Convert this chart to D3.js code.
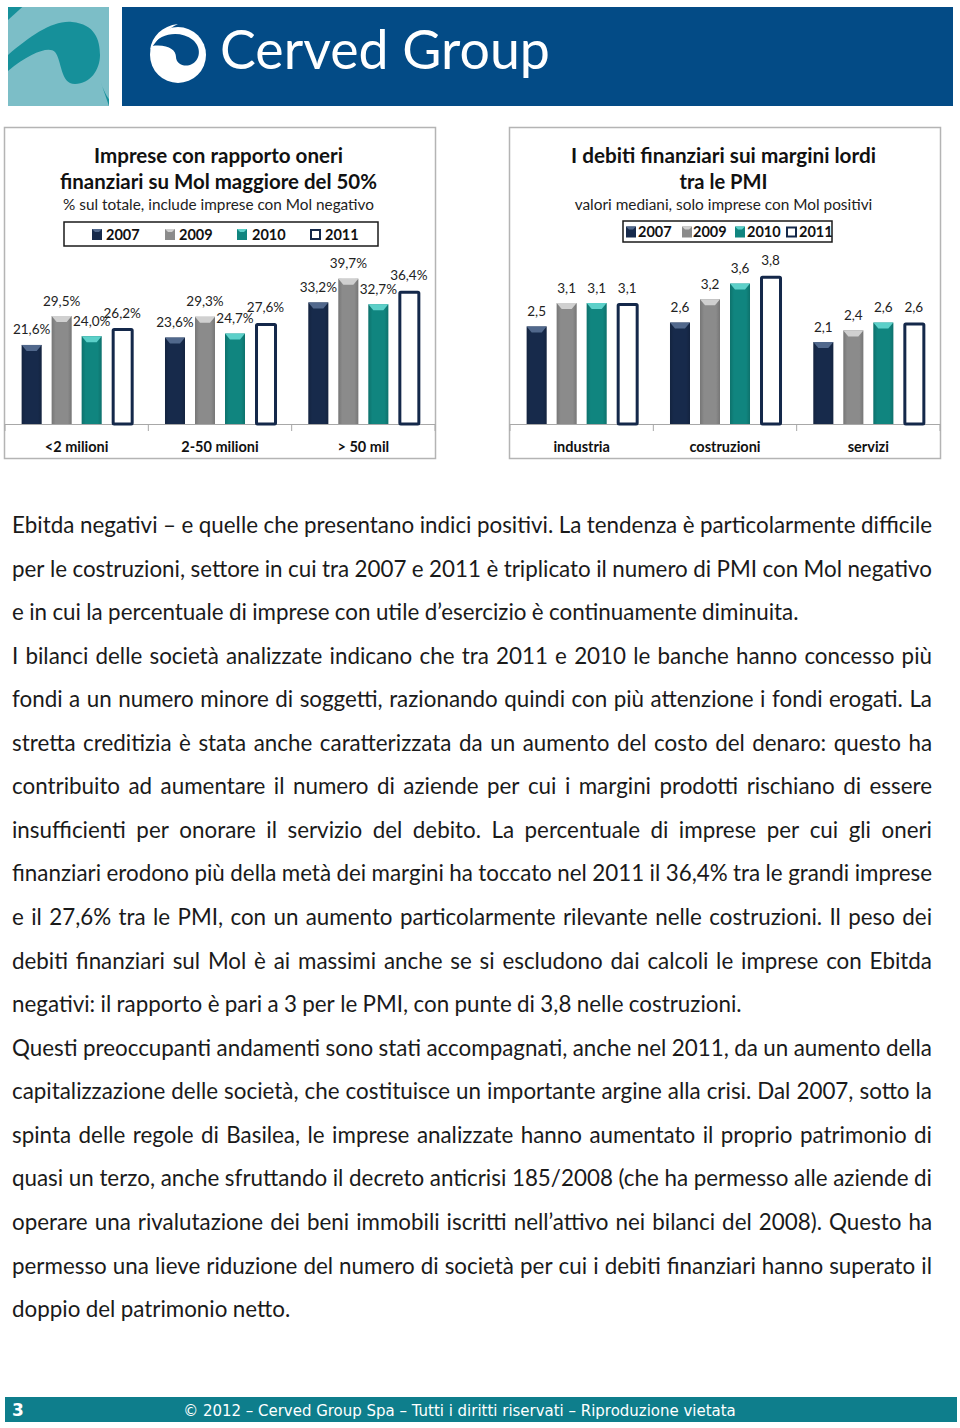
<!DOCTYPE html>
<html><head><meta charset="utf-8">
<script src="https://cdn.jsdelivr.net/npm/d3@7"></script>
<style>
html,body{margin:0;padding:0;background:#fff;}
svg{display:block;}
</style></head>
<body>
<svg id="page" width="960" height="1428"></svg>
<script>
// ---------- DATA ----------
const series = ["2007","2009","2010","2011"];
const sizeCategories = ["<2 milioni","2-50 milioni","> 50 mil"];
const share2007 = [21.6, 23.6, 33.2];
const share2009 = [29.5, 29.3, 39.7];
const share2010 = [24.0, 24.7, 32.7];
const share2011 = [26.2, 27.6, 36.4];
const sectorCategories = ["industria","costruzioni","servizi"];
const debt2007 = [2.5, 2.6, 2.1];
const debt2009 = [3.1, 3.2, 2.4];
const debt2010 = [3.1, 3.6, 2.6];
const debt2011 = [3.1, 3.8, 2.6];

const leftTitle = ["Imprese con rapporto oneri","finanziari su Mol maggiore del 50%"];
const leftSubtitle = "% sul totale, include imprese con Mol negativo";
const rightTitle = ["I debiti finanziari sui margini lordi","tra le PMI"];
const rightSubtitle = "valori mediani, solo imprese con Mol positivi";

const bodyLines = [
 ["Ebitda negativi – e quelle che presentano indici positivi. La tendenza è particolarmente difficile", true],
 ["per le costruzioni, settore in cui tra 2007 e 2011 è triplicato il numero di PMI con Mol negativo", true],
 ["e in cui la percentuale di imprese con utile d’esercizio è continuamente diminuita.", false],
 ["I bilanci delle società analizzate indicano che tra 2011 e 2010 le banche hanno concesso più", true],
 ["fondi a un numero minore di soggetti, razionando quindi con più attenzione i fondi erogati. La", true],
 ["stretta creditizia è stata anche caratterizzata da un aumento del costo del denaro: questo ha", true],
 ["contribuito ad aumentare il numero di aziende per cui i margini prodotti rischiano di essere", true],
 ["insufficienti per onorare il servizio del debito. La percentuale di imprese per cui gli oneri", true],
 ["finanziari erodono più della metà dei margini ha toccato nel 2011 il 36,4% tra le grandi imprese", true],
 ["e il 27,6% tra le PMI, con un aumento particolarmente rilevante nelle costruzioni. Il peso dei", true],
 ["debiti finanziari sul Mol è ai massimi anche se si escludono dai calcoli le imprese con Ebitda", true],
 ["negativi: il rapporto è pari a 3 per le PMI, con punte di 3,8 nelle costruzioni.", false],
 ["Questi preoccupanti andamenti sono stati accompagnati, anche nel 2011, da un aumento della", true],
 ["capitalizzazione delle società, che costituisce un importante argine alla crisi. Dal 2007, sotto la", true],
 ["spinta delle regole di Basilea, le imprese analizzate hanno aumentato il proprio patrimonio di", true],
 ["quasi un terzo, anche sfruttando il decreto anticrisi 185/2008 (che ha permesso alle aziende di", true],
 ["operare una rivalutazione dei beni immobili iscritti nell’attivo nei bilanci del 2008). Questo ha", true],
 ["permesso una lieve riduzione del numero di società per cui i debiti finanziari hanno superato il", true],
 ["doppio del patrimonio netto.", false]
];
const footerText = "© 2012 – Cerved Group Spa – Tutti i diritti riservati – Riproduzione vietata";
const pageNumber = "3";

// ---------- STYLE ----------
const FONT = "Lato, 'Open Sans', sans-serif";
const colors = {"2007":"#172a4b","2009":"#8b8b8b","2010":"#10857f","2011":"#ffffff"};
const bevel = {"2007":"#51688c","2009":"#d0d0d0","2010":"#5cd0c9"};
const NAVY = "#14284a";

const svg = d3.select("#page");

function fit(sel, w){
  const n = sel.node();
  const fs = parseFloat(sel.attr("font-size"));
  const len = n.getComputedTextLength();
  if(len>0) sel.attr("font-size", fs*w/len);
  return sel;
}

// ---------- HEADER ----------
const hdr = svg.append("g");
hdr.append("rect").attr("x",8).attr("y",7).attr("width",101).attr("height",99).attr("fill","#7cbec7");
hdr.append("clipPath").attr("id","sq").append("rect").attr("x",8).attr("y",7).attr("width",101).attr("height",99);
const sqg = hdr.append("g").attr("clip-path","url(#sq)");
sqg.append("path").attr("d","M0,10 L20,0 L30,0 L8,20 Z").attr("fill","#16909a");
sqg.append("path").attr("d","M0,62 C25,40 50,20 72,22 C95,24 100,40 100,55 C100,70 90,84 75,84 C60,84 62,60 55,52 C48,45 25,55 0,78 Z")
  .attr("fill","#16909a");
sqg.append("path").attr("d","M100,80 C105,95 109,100 115,106 L109,106 Z").attr("fill","#16909a");
hdr.append("rect").attr("x",122).attr("y",7).attr("width",831).attr("height",99).attr("fill","#034b86");
hdr.append("circle").attr("cx",178).attr("cy",55).attr("r",28).attr("fill","#fff");
hdr.append("path").attr("d","M152,46 C160,33 180,30 193,40 C202,48 200,60 192,64 C185,68 176,64 176,57 C176,50 168,44 152,46 Z").attr("fill","#034b86");
hdr.append("path").attr("d","M150,50 C152,36 162,26 178,24 C166,30 158,38 150,50 Z").attr("fill","#fff");
fit(hdr.append("text").attr("x",220).attr("y",69).attr("font-size",54).attr("font-family","Lato, sans-serif")
  .attr("fill","#fff").text("Cerved Group"), 330);

// ---------- CHARTS ----------
function chart(opts){
  const g = svg.append("g");
  g.append("rect").attr("x",opts.x0+0.5).attr("y",127.5).attr("width",431).attr("height",331)
    .attr("fill","#fff").attr("stroke","#b4b4b4").attr("stroke-width",1.5);
  opts.title.forEach((t,i)=>{
    fit(g.append("text").attr("x",opts.tcx).attr("y",[163,189][i]).attr("text-anchor","middle")
      .attr("font-family",FONT).attr("font-weight",700).attr("font-size",19).attr("fill","#111").text(t), opts.tw[i]);
  });
  fit(g.append("text").attr("x",opts.tcx).attr("y",210).attr("text-anchor","middle")
    .attr("font-family",FONT).attr("font-size",14).attr("fill","#222").text(opts.subtitle), opts.sw);
  const L = opts.legend;
  g.append("rect").attr("x",L.x).attr("y",L.y).attr("width",L.w).attr("height",L.h)
    .attr("fill","#fff").attr("stroke","#1a1a1a").attr("stroke-width",1.5);
  series.forEach((s,i)=>{
    const mx = L.mx[i], my = L.y + L.h/2 - 5;
    if(s==="2011"){
      g.append("rect").attr("x",mx+1).attr("y",my+1).attr("width",9).attr("height",9)
        .attr("fill","#fff").attr("stroke",NAVY).attr("stroke-width",2);
    } else {
      g.append("rect").attr("x",mx).attr("y",my).attr("width",10).attr("height",11).attr("fill",colors[s]);
      g.append("path").attr("d",`M${mx},${my} L${mx+10},${my} L${mx+7},${my+3} L${mx+3},${my+3} Z`).attr("fill",bevel[s]);
    }
    g.append("text").attr("x",L.tx[i]).attr("y",L.y+L.h/2+5.5).attr("font-family",FONT).attr("font-weight",700)
      .attr("font-size",14.5).attr("fill","#111").text(s);
  });
  const x = d3.scaleBand().domain(opts.categories).range([opts.x0+1, opts.x0+431]);
  const xs = d3.scaleBand().domain(series).range([0, x.bandwidth()]).paddingInner(1/3).paddingOuter(0.555);
  const y = d3.scaleLinear().domain([0, opts.ymax]).range([424, 424 - opts.ymax*opts.ppu]);
  const ax = g.append("g").attr("transform","translate(0,424)")
    .call(d3.axisBottom(x).tickSize(0).tickFormat(""));
  ax.select(".domain").attr("stroke","#a8a8a8").attr("d",`M${opts.x0+1},0.5H${opts.x0+431}`);
  const bounds = [opts.x0+1].concat(opts.categories.map(c=>x(c)+x.bandwidth()));
  g.selectAll(".tk").data(bounds).join("line").attr("x1",d=>d).attr("x2",d=>d).attr("y1",424).attr("y2",431)
    .attr("stroke","#a8a8a8");
  g.selectAll(".cat").data(opts.categories).join("text")
    .attr("x",d=>x(d)+x.bandwidth()/2).attr("y",452).attr("text-anchor","middle")
    .attr("font-family",FONT).attr("font-weight",700).attr("font-size",14.5).attr("fill","#111").text(d=>d);
  const rows = [];
  opts.categories.forEach((c,ci)=>series.forEach((s,si)=>rows.push({c, s, v: opts.values[si][ci]})));
  const bw = xs.bandwidth();
  const grad = "g"+opts.x0;
  rows.forEach(d=>{
    const bx = x(d.c)+xs(d.s), top = y(d.v), h = 424 - top;
    if(d.s==="2011"){
      g.append("rect").attr("x",bx+1.5).attr("y",top+1.5).attr("width",bw-1).attr("height",h-1.5)
        .attr("fill","#fff").attr("stroke",NAVY).attr("stroke-width",3).attr("rx",1);
    } else {
      g.append("rect").attr("x",bx).attr("y",top).attr("width",bw).attr("height",h).attr("fill",colors[d.s]);
      g.append("rect").attr("x",bx).attr("y",top).attr("width",bw).attr("height",h).attr("fill","url(#shade)");
      g.append("path").attr("d",`M${bx},${top} L${bx+bw},${top} L${bx+bw-5},${top+6} L${bx+5},${top+6} Z`)
        .attr("fill",bevel[d.s]);
    }
    g.append("text").attr("x",bx+bw/2+(d.s==="2011"?0.5:0)).attr("y",top-10.5).attr("text-anchor","middle")
      .attr("font-family",FONT).attr("font-size",13.5).attr("fill","#222").text(opts.fmt(d.v));
  });
}
const defs = svg.append("defs");
const lg = defs.append("linearGradient").attr("id","shade").attr("x1",0).attr("x2",1).attr("y1",0).attr("y2",0);
lg.append("stop").attr("offset",0).attr("stop-color","#000").attr("stop-opacity",0.15);
lg.append("stop").attr("offset",0.2).attr("stop-color","#000").attr("stop-opacity",0);
lg.append("stop").attr("offset",0.8).attr("stop-color","#000").attr("stop-opacity",0);
lg.append("stop").attr("offset",1).attr("stop-color","#000").attr("stop-opacity",0.15);

const fmtPct = v => d3.format(".1f")(v).replace(".",",")+"%";
const fmtNum = v => d3.format(".1f")(v).replace(".",",");

chart({x0:4, categories:sizeCategories, values:[share2007,share2009,share2010,share2011], ymax:45, ppu:3.66,
  title:leftTitle, tw:[249,317], subtitle:leftSubtitle, sw:311, tcx:218.5, fmt:fmtPct,
  legend:{x:64,y:222,w:314,h:24, mx:[92,165,237,310], tx:[106,179,252,325]}});
chart({x0:509, categories:sectorCategories, values:[debt2007,debt2009,debt2010,debt2011], ymax:4.5, ppu:39,
  title:rightTitle, tw:[305,88], subtitle:rightSubtitle, sw:298, tcx:723.5, fmt:fmtNum,
  legend:{x:623,y:221,w:209,h:21, mx:[626,682,735,786], tx:[638,693,747,799]}});

// ---------- BODY TEXT ----------
const left = 12, right = 932, y0 = 533, lh = 43.56;
const probe = svg.append("g").attr("font-family",FONT).attr("font-size",20);
let scale = Infinity;
bodyLines.forEach(([line, just])=>{
  if(!just) return;
  const words = line.split(" ");
  let tot = 0;
  words.forEach(w=>{ const t = probe.append("text").text(w); tot += t.node().getComputedTextLength(); t.remove(); });
  scale = Math.min(scale, (right-left)/(tot + (words.length-1)*20*0.24));
});
probe.remove();
const bodySize = 20*scale;
const body = svg.append("g").attr("font-family",FONT).attr("font-size",bodySize).attr("fill","#1a1a1a");
bodyLines.forEach(([line, just], i)=>{
  const yy = y0 + i*lh;
  const words = line.split(" ");
  const ws = words.map(w=>{
    const t = body.append("text").attr("y",yy).text(w);
    return {t, w: t.node().getComputedTextLength()};
  });
  const total = d3.sum(ws, d=>d.w);
  const gap = just ? (right-left-total)/(words.length-1) : bodySize*0.24;
  let xx = left;
  ws.forEach(d=>{ d.t.attr("x",xx); xx += d.w + gap; });
});

// ---------- FOOTER ----------
svg.append("rect").attr("x",5).attr("y",1397).attr("width",952).attr("height",25).attr("fill","#0e7e8c");
svg.append("text").attr("x",12).attr("y",1416).attr("font-family","'DejaVu Sans', sans-serif").attr("font-weight",700)
  .attr("font-size",17).attr("fill","#fff").text(pageNumber);
fit(svg.append("text").attr("x",459.5).attr("y",1415.5).attr("text-anchor","middle").attr("font-family","'DejaVu Sans', sans-serif")
  .attr("font-size",13).attr("fill","#fff").text(footerText), 553);
</script>
</body></html>
